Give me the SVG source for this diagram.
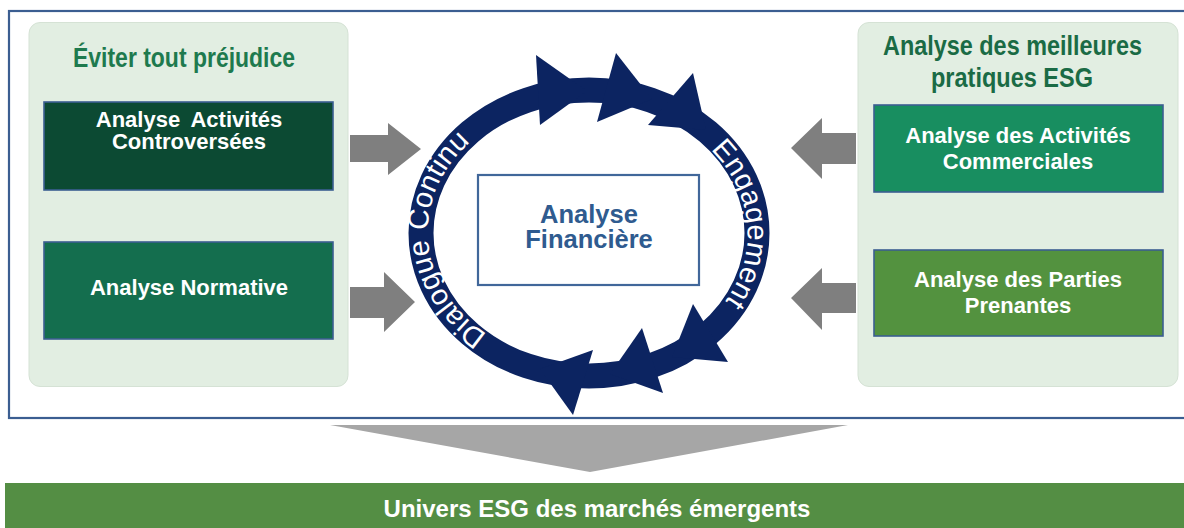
<svg xmlns="http://www.w3.org/2000/svg" width="1184" height="528" viewBox="0 0 1184 528">
<defs>
<style>
.panel{fill:#e2eee2;stroke:#d5e2d5;stroke-width:1}
.box{stroke:#3b5e91;stroke-width:1.6}
.bt{font-family:"Liberation Sans",Arial,sans-serif;font-weight:bold;font-size:22px;fill:#ffffff;text-anchor:middle}
.title{font-family:"Liberation Sans",Arial,sans-serif;font-weight:bold;font-size:28px;text-anchor:middle}
.garrow{fill:#7f7f7f}
.ring{fill:none;stroke:#0c2461;stroke-width:25}
.head{fill:#0c2461}
.rt{font-family:"Liberation Sans",Arial,sans-serif;font-size:29px;fill:#ffffff;letter-spacing:0.2px}
.fin{font-family:"Liberation Sans",Arial,sans-serif;font-weight:bold;font-size:25.5px;fill:#2f5b8f;text-anchor:middle}
</style>
<path id="leftArc" d="M 497.5 340.4 A 155 130 0 0 1 479.9 134.5"/>
<path id="rightArc" d="M 699.9 140.3 A 155 130 0 0 1 716.0 312.6"/>
</defs>
<rect width="1184" height="528" fill="#ffffff"/>

<g id="frame">
<rect x="9" y="11" width="1190" height="407" fill="none" stroke="#3b5e91" stroke-width="2.2"/>
</g>

<g id="left-panel">
<rect class="panel" x="29" y="22.5" width="319" height="364" rx="11"/>
<text class="title" x="184" y="67" fill="#1e7a4e" textLength="222" lengthAdjust="spacingAndGlyphs">Éviter tout préjudice</text>
</g>

<g id="right-panel">
<rect class="panel" x="858" y="22.5" width="320" height="364" rx="11"/>
<text class="title" x="1012.5" y="55" fill="#1a6b45" textLength="259" lengthAdjust="spacingAndGlyphs">Analyse des meilleures</text>
<text class="title" x="1012" y="87" fill="#1a6b45" textLength="162" lengthAdjust="spacingAndGlyphs">pratiques ESG</text>
</g>

<g id="node-controversees">
<rect class="box" x="44" y="102" width="289" height="88" fill="#0c4a33"/>
<text class="bt" x="189" y="127" word-spacing="5">Analyse Activités</text>
<text class="bt" x="189" y="149">Controversées</text>
</g>

<g id="node-normative">
<rect class="box" x="44" y="242" width="289" height="97" fill="#146e4e"/>
<text class="bt" x="189" y="295">Analyse Normative</text>
</g>

<g id="node-commerciales">
<rect class="box" x="874" y="105" width="289" height="87" fill="#188e60"/>
<text class="bt" x="1018" y="143">Analyse des Activités</text>
<text class="bt" x="1018" y="169">Commerciales</text>
</g>

<g id="node-parties">
<rect class="box" x="874" y="250" width="289" height="86" fill="#53923f"/>
<text class="bt" x="1018" y="287">Analyse des Parties</text>
<text class="bt" x="1018" y="313">Prenantes</text>
</g>

<g id="connectors">
<polygon class="garrow" points="350,135 388,135 388,123 421,149 388,175 388,162 350,162"/>
<polygon class="garrow" points="350,287 384,287 384,272 415,302 384,332 384,318 350,318"/>
<polygon class="garrow" points="856,133 822,133 822,118 791,148 822,179 822,164 856,164"/>
<polygon class="garrow" points="856,283 822,283 822,268 791,298 822,330 822,313 856,313"/>
<polygon fill="#a6a6a6" points="330,425 848,425 590,472"/>
</g>

<g id="cycle">
<ellipse class="ring" cx="589" cy="233" rx="168" ry="143"/>
<polygon class="head" points="536,55 540,125 587,91"/>
<polygon class="head" points="616,53 597,122 652,99"/>
<polygon class="head" points="693,73 648,125 706,130"/>
<polygon class="head" points="693,304 728,362 672,357"/>
<polygon class="head" points="642,328 663,393 610,374"/>
<polygon class="head" points="593,350 573,415 540,369"/>
<text class="rt"><textPath href="#leftArc" startOffset="50%" text-anchor="middle">Dialogue Continu</textPath></text>
<text class="rt"><textPath href="#rightArc" startOffset="50%" text-anchor="middle">Engagement</textPath></text>
</g>

<g id="node-financiere">
<rect x="478" y="175" width="221" height="110" fill="#ffffff" stroke="#41679a" stroke-width="2.2"/>
<text class="fin" x="589" y="223">Analyse</text>
<text class="fin" x="589" y="248">Financière</text>
</g>

<g id="node-univers">
<rect x="5" y="483" width="1185" height="50" fill="#548e44"/>
<text x="597" y="517" font-family="Liberation Sans, Arial, sans-serif" font-weight="bold" font-size="24" fill="#ffffff" text-anchor="middle">Univers ESG des marchés émergents</text>
</g>
</svg>
